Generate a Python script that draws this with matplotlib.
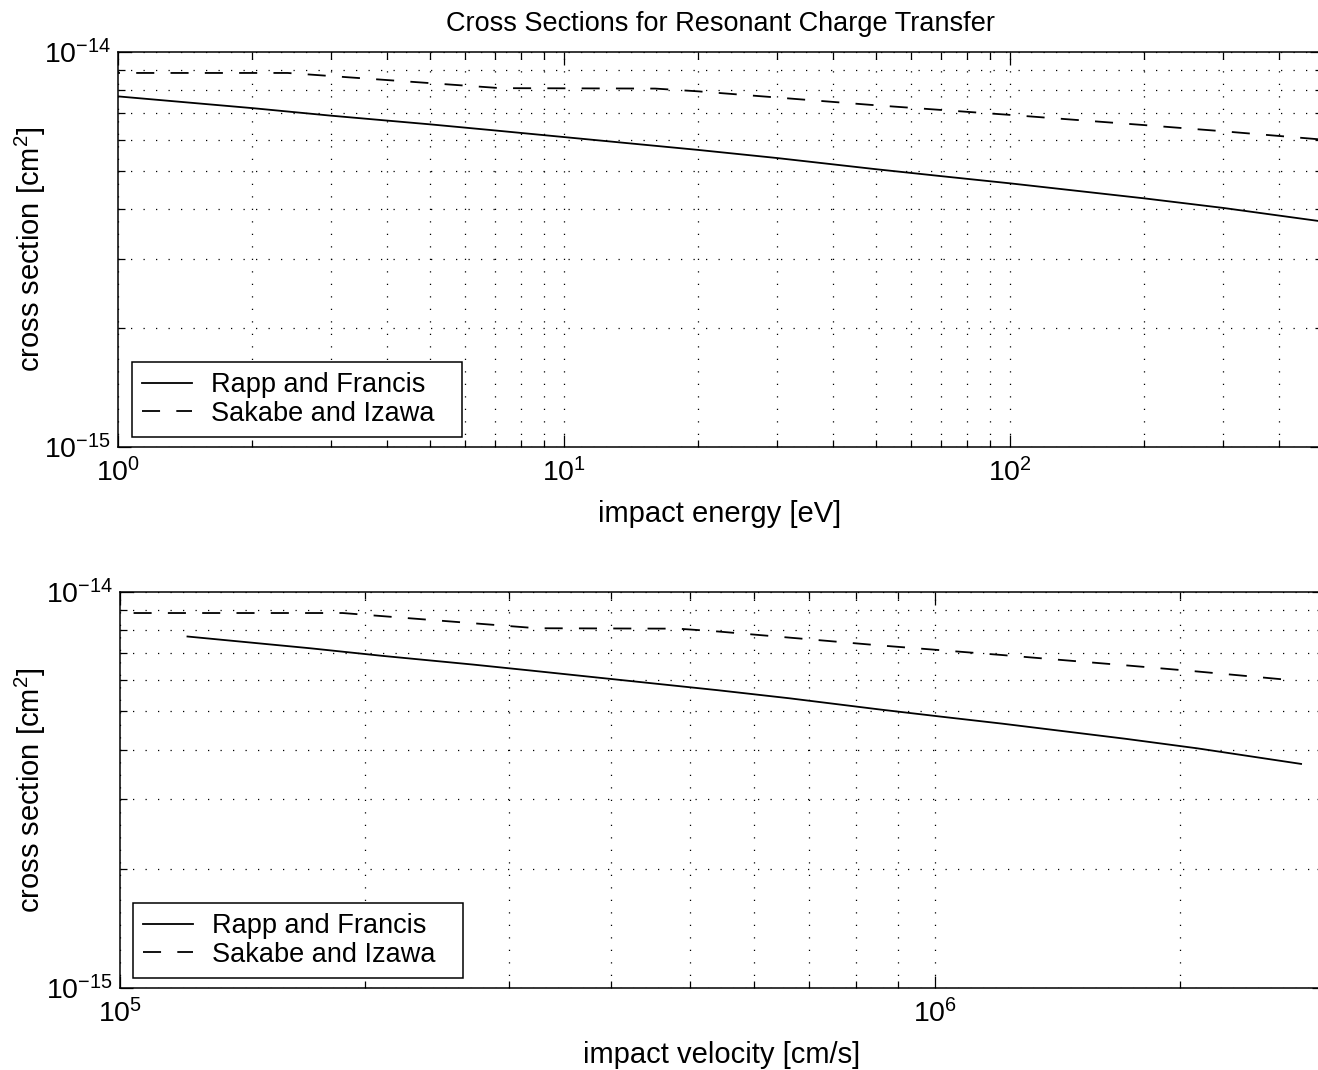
import matplotlib
matplotlib.use('Agg')
import matplotlib.pyplot as plt
from matplotlib.ticker import NullFormatter

# values (cross sections in units of 1e-15 cm^2)
rapp_energy = [1, 2, 3, 5, 7, 10, 20, 30, 50, 70, 100, 200, 300, 540]
rapp_sigma = [7.72, 7.21, 6.90, 6.56, 6.33, 6.09, 5.65, 5.39, 5.05, 4.85, 4.65, 4.26, 4.03, 3.68]
rapp_velocity = [1.21, 1.711, 2.096, 2.706, 3.201, 3.826, 5.411, 6.627, 8.556, 10.12, 12.1, 17.11, 20.96, 28.12]  # 1e5 cm/s

sakabe_energy = [0.5, 1, 2.4, 7.2, 16, 20, 30, 50, 100, 200, 300, 520]
sakabe_sigma = [8.85, 8.85, 8.85, 8.10, 8.08, 7.95, 7.67, 7.33, 6.93, 6.53, 6.30, 5.98]
sakabe_velocity = [0.856, 1.21, 1.875, 3.247, 4.84, 5.411, 6.627, 8.556, 12.1, 17.11, 20.96, 27.59]  # 1e5 cm/s

series_names = ['Rapp and Francis', 'Sakabe and Izawa']
title = 'Cross Sections for Resonant Charge Transfer'
energy_lim = (1, 500)
velocity_lim = (1e5, 3e6)
sigma_lim = (1e-15, 1e-14)
sigma_ticks = [1e-15, 1e-14]

plt.rcParams['font.family'] = ['Liberation Sans', 'DejaVu Sans']
plt.rcParams['mathtext.fontset'] = 'custom'
plt.rcParams['mathtext.rm'] = 'Liberation Sans'
plt.rcParams['mathtext.it'] = 'Liberation Sans:italic'
plt.rcParams['mathtext.bf'] = 'Liberation Sans:bold'

FS = 21
dash = (0, (10, 9))

fig = plt.figure(figsize=(13.18, 10.70), dpi=100)
W, H = 1318.0, 1070.0
ax1 = fig.add_axes([118 / W, 1 - 447 / H, 1204 / W, 395 / H])
ax2 = fig.add_axes([120 / W, 1 - 988 / H, 1204 / W, 396 / H])

def style(ax, left_px):
    ax.set_xscale('log')
    ax.set_yscale('log')
    ax.set_ylim(*sigma_lim)
    ax.set_yticks(sigma_ticks)
    ax.xaxis.set_minor_formatter(NullFormatter())
    ax.yaxis.set_minor_formatter(NullFormatter())
    ax.grid(True, which='both', color='k', lw=0.9, ls=(0, (1, 9)))
    ax.tick_params(which='both', direction='in', top=True, right=True, labelsize=20.5, width=0.9)
    ax.tick_params(which='major', length=9)
    ax.tick_params(which='minor', length=5)
    ax.tick_params(axis='x', pad=8)
    ax.tick_params(axis='y', pad=5)
    for s in ax.spines.values():
        s.set_linewidth(1.1)
    ax.set_ylabel('cross section [cm$^2$]', fontsize=FS)
    ax.yaxis.set_label_coords((48 - left_px) / 1204, 0.5)

# top: against energy
ax1.plot(rapp_energy, [s * 1e-15 for s in rapp_sigma], color='k', lw=1.3, label=series_names[0])
ax1.plot(sakabe_energy, [s * 1e-15 for s in sakabe_sigma], color='k', lw=1.3, ls=dash, label=series_names[1])
ax1.set_xlim(*energy_lim)
style(ax1, 118)
ax1.set_xlabel('impact energy [eV]', fontsize=FS, labelpad=9)
ax1.set_title(title, fontsize=19.5, pad=15)

# bottom: against velocity
ax2.plot([v * 1e5 for v in rapp_velocity], [s * 1e-15 for s in rapp_sigma], color='k', lw=1.3, label=series_names[0])
ax2.plot([v * 1e5 for v in sakabe_velocity], [s * 1e-15 for s in sakabe_sigma], color='k', lw=1.3, ls=dash, label=series_names[1])
ax2.set_xlim(*velocity_lim)
style(ax2, 120)
ax2.set_xlabel('impact velocity [cm/s]', fontsize=FS, labelpad=9)

for ax, bx in ((ax1, 14 / 1204), (ax2, 13 / 1204)):
    leg = ax.legend(loc='lower left', bbox_to_anchor=(bx, 0.025, 330 / 1204, 0.18), mode='expand',
                    borderaxespad=0, fontsize=19.5, fancybox=False, framealpha=1, edgecolor='k',
                    handlelength=1.85, handletextpad=0.7, labelspacing=0.1, borderpad=0.38)
    leg.get_frame().set_linewidth(1.1)

fig.savefig('out.png', dpi=100)
